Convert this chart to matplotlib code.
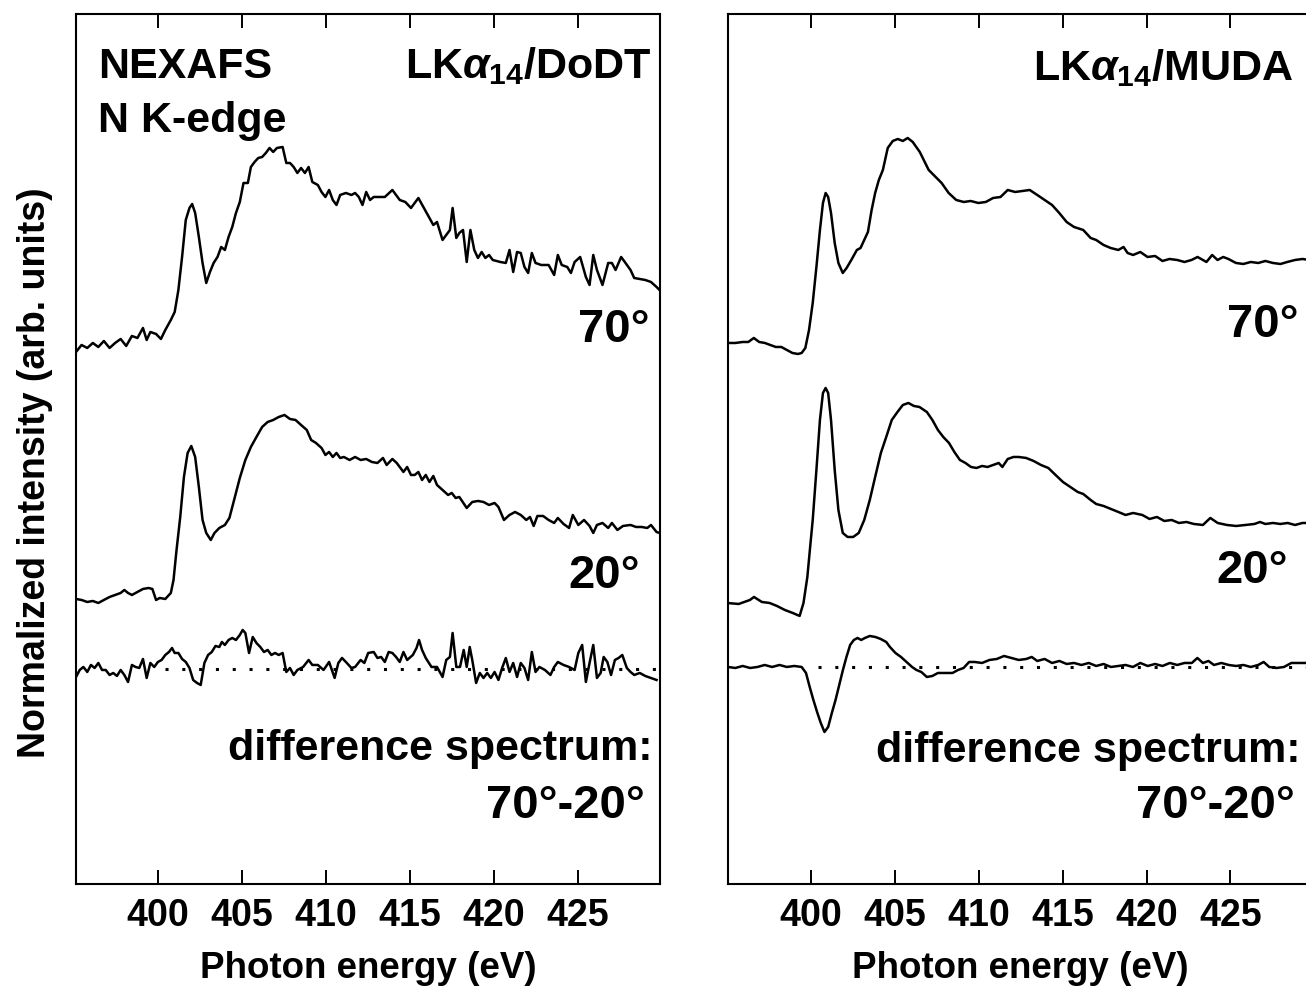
import numpy as np
import matplotlib
matplotlib.use("Agg")
import matplotlib.pyplot as plt

plt.rcParams['font.family'] = ['Liberation Sans', 'DejaVu Sans']
plt.rcParams['font.weight'] = 'bold'
plt.rcParams['axes.labelweight'] = 'bold'
plt.rcParams['mathtext.fontset'] = 'custom'
plt.rcParams['mathtext.rm'] = 'Liberation Sans:bold'
plt.rcParams['mathtext.it'] = 'Liberation Sans:italic'
plt.rcParams['mathtext.bf'] = 'Liberation Sans:bold'

# ---- LKa14/DoDT, 70 deg ----
e_dodt_70 = [395.10, 395.43, 395.77, 396.10, 396.43, 396.76, 397.10, 397.43, 397.76, 398.09,
             398.43, 398.76, 399.09, 399.31, 399.53, 399.87, 400.16, 400.42, 400.75, 400.98,
             401.20, 401.42, 401.64, 401.86, 402.02, 402.20, 402.42, 402.64, 402.86, 403.08,
             403.30, 403.53, 403.75, 403.97, 404.19, 404.41, 404.63, 404.86, 405.08, 405.34,
             405.52, 405.74, 405.96, 406.19, 406.41, 406.63, 406.85, 407.07, 407.41, 407.63,
             407.85, 408.07, 408.29, 408.51, 408.74, 408.96, 409.18, 409.51, 409.73, 409.96,
             410.18, 410.40, 410.62, 410.84, 411.18, 411.51, 411.73, 411.95, 412.17, 412.39,
             412.62, 412.84, 413.17, 413.50, 413.95, 414.17, 414.39, 414.72, 415.06, 415.50,
             415.83, 416.16, 416.39, 416.61, 416.94, 417.16, 417.38, 417.54, 417.76, 417.94,
             418.16, 418.38, 418.60, 418.83, 419.05, 419.27, 419.49, 419.71, 419.93, 420.38,
             420.71, 420.93, 421.15, 421.38, 421.60, 421.82, 422.04, 422.26, 422.48, 422.82,
             423.26, 423.59, 423.81, 424.04, 424.37, 424.59, 424.81, 425.14, 425.48, 425.70,
             425.92, 426.14, 426.47, 426.81, 427.03, 427.25, 427.58, 427.80, 428.14, 428.36,
             428.69, 429.02, 429.36, 429.69, 429.87]
i_dodt_70 = [5.32, 5.39, 5.36, 5.41, 5.37, 5.43, 5.36, 5.41, 5.45, 5.38,
             5.48, 5.46, 5.56, 5.44, 5.52, 5.50, 5.45, 5.54, 5.64, 5.72,
             5.94, 6.27, 6.64, 6.76, 6.80, 6.71, 6.47, 6.21, 6.01, 6.12,
             6.21, 6.27, 6.37, 6.34, 6.47, 6.57, 6.71, 6.82, 7.01, 7.01,
             7.17, 7.22, 7.26, 7.27, 7.31, 7.36, 7.32, 7.36, 7.37, 7.21,
             7.21, 7.17, 7.11, 7.16, 7.11, 7.17, 7.02, 6.99, 6.92, 6.87,
             6.94, 6.84, 6.79, 6.89, 6.91, 6.89, 6.91, 6.87, 6.79, 6.92,
             6.84, 6.87, 6.87, 6.87, 6.94, 6.89, 6.84, 6.82, 6.76, 6.86,
             6.76, 6.66, 6.59, 6.62, 6.44, 6.49, 6.54, 6.76, 6.46, 6.51,
             6.54, 6.22, 6.54, 6.34, 6.26, 6.32, 6.26, 6.29, 6.24, 6.22,
             6.21, 6.34, 6.12, 6.32, 6.31, 6.17, 6.11, 6.31, 6.21, 6.19,
             6.19, 6.09, 6.29, 6.19, 6.17, 6.11, 6.22, 6.27, 6.07, 5.99,
             6.29, 6.14, 5.99, 6.21, 6.21, 6.14, 6.27, 6.22, 6.14, 6.06,
             6.05, 6.04, 6.02, 5.97, 5.94]

# ---- LKa14/DoDT, 20 deg ----
e_dodt_20 = [395.10, 395.43, 395.77, 396.10, 396.43, 396.76, 397.10, 397.43, 397.76, 397.98,
             398.20, 398.43, 398.76, 399.09, 399.42, 399.65, 399.87, 400.09, 400.42, 400.75,
             400.91, 401.09, 401.31, 401.53, 401.75, 401.97, 402.20, 402.42, 402.64, 402.86,
             403.13, 403.35, 403.64, 403.97, 404.24, 404.52, 404.86, 405.19, 405.52, 405.85,
             406.19, 406.52, 406.85, 407.18, 407.52, 407.85, 408.18, 408.51, 408.85, 409.11,
             409.40, 409.73, 409.96, 410.18, 410.40, 410.62, 410.84, 411.06, 411.40, 411.73,
             412.06, 412.39, 412.73, 413.06, 413.39, 413.61, 413.95, 414.21, 414.61, 414.83,
             415.06, 415.28, 415.50, 415.72, 415.94, 416.16, 416.39, 416.61, 416.94, 417.27,
             417.49, 417.72, 417.94, 418.38, 418.71, 419.05, 419.38, 419.71, 420.04, 420.27,
             420.60, 420.93, 421.26, 421.60, 421.93, 422.15, 422.37, 422.59, 422.93, 423.26,
             423.59, 423.81, 424.15, 424.48, 424.70, 425.03, 425.37, 425.70, 425.92, 426.14,
             426.47, 426.81, 427.03, 427.36, 427.69, 428.14, 428.47, 428.80, 429.14, 429.36,
             429.69, 429.87]
i_dodt_20 = [2.85, 2.84, 2.82, 2.83, 2.81, 2.84, 2.87, 2.89, 2.91, 2.94,
             2.91, 2.89, 2.92, 2.95, 2.96, 2.95, 2.84, 2.86, 2.85, 2.91,
             3.04, 3.34, 3.67, 4.07, 4.31, 4.38, 4.27, 3.97, 3.64, 3.51,
             3.44, 3.51, 3.56, 3.59, 3.66, 3.84, 4.06, 4.24, 4.37, 4.47,
             4.57, 4.62, 4.64, 4.67, 4.69, 4.65, 4.64, 4.59, 4.54, 4.44,
             4.41, 4.36, 4.29, 4.32, 4.27, 4.31, 4.26, 4.27, 4.24, 4.27,
             4.24, 4.25, 4.22, 4.21, 4.26, 4.19, 4.25, 4.21, 4.12, 4.17,
             4.09, 4.09, 4.12, 4.04, 4.09, 4.02, 4.08, 3.99, 3.94, 3.89,
             3.91, 3.86, 3.87, 3.76, 3.82, 3.83, 3.82, 3.79, 3.81, 3.77,
             3.64, 3.69, 3.72, 3.69, 3.64, 3.67, 3.58, 3.68, 3.68, 3.64,
             3.61, 3.66, 3.60, 3.56, 3.69, 3.59, 3.64, 3.58, 3.51, 3.59,
             3.61, 3.56, 3.61, 3.54, 3.58, 3.59, 3.57, 3.57, 3.56, 3.59,
             3.52, 3.51]

# ---- LKa14/DoDT, difference 70-20 ----
e_dodt_diff = [395.10, 395.32, 395.54, 395.77, 395.99, 396.21, 396.43, 396.65, 396.87, 397.10,
               397.32, 397.54, 397.76, 397.98, 398.20, 398.43, 398.65, 398.87, 399.09, 399.31,
               399.53, 399.76, 399.98, 400.20, 400.42, 400.64, 400.82, 400.98, 401.20, 401.42,
               401.64, 401.86, 402.08, 402.31, 402.53, 402.75, 402.97, 403.19, 403.41, 403.64,
               403.79, 403.97, 404.19, 404.41, 404.63, 404.86, 405.03, 405.19, 405.41, 405.63,
               405.85, 406.08, 406.30, 406.52, 406.74, 406.96, 407.18, 407.41, 407.63, 407.85,
               408.07, 408.29, 408.63, 408.96, 409.18, 409.51, 409.85, 410.18, 410.51, 410.73,
               410.95, 411.18, 411.51, 411.73, 412.06, 412.28, 412.51, 412.84, 413.06, 413.28,
               413.50, 413.73, 413.95, 414.17, 414.39, 414.61, 414.83, 415.17, 415.39, 415.54,
               415.72, 415.94, 416.28, 416.61, 416.94, 417.16, 417.38, 417.54, 417.76, 417.98,
               418.20, 418.38, 418.56, 418.71, 418.94, 419.16, 419.38, 419.60, 419.82, 420.04,
               420.27, 420.49, 420.71, 420.93, 421.15, 421.38, 421.60, 421.82, 422.04, 422.26,
               422.48, 422.71, 423.04, 423.37, 423.59, 423.81, 424.15, 424.48, 424.81, 425.03,
               425.26, 425.48, 425.70, 425.92, 426.14, 426.36, 426.54, 426.76, 426.98, 427.21,
               427.43, 427.65, 427.92, 428.14, 428.36, 428.69, 429.02, 429.36, 429.69]
i_dodt_diff = [2.07, 2.14, 2.17, 2.12, 2.19, 2.16, 2.21, 2.14, 2.14, 2.09,
               2.11, 2.08, 2.14, 2.09, 2.02, 2.19, 2.17, 2.16, 2.25, 2.06,
               2.21, 2.17, 2.22, 2.24, 2.29, 2.32, 2.36, 2.31, 2.31, 2.25,
               2.22, 2.16, 2.04, 2.01, 1.99, 2.21, 2.29, 2.32, 2.38, 2.37,
               2.42, 2.39, 2.44, 2.46, 2.44, 2.49, 2.54, 2.51, 2.31, 2.47,
               2.41, 2.37, 2.32, 2.34, 2.29, 2.31, 2.29, 2.31, 2.12, 2.16,
               2.09, 2.14, 2.17, 2.24, 2.19, 2.19, 2.14, 2.22, 2.06, 2.21,
               2.26, 2.22, 2.16, 2.17, 2.24, 2.21, 2.31, 2.32, 2.26, 2.27,
               2.22, 2.32, 2.31, 2.27, 2.22, 2.32, 2.24, 2.29, 2.36, 2.44,
               2.34, 2.26, 2.17, 2.17, 2.07, 2.24, 2.27, 2.51, 2.17, 2.17,
               2.34, 2.17, 2.37, 2.24, 2.01, 2.11, 2.06, 2.11, 2.06, 2.12,
               2.04, 2.16, 2.26, 2.12, 2.21, 2.07, 2.21, 2.16, 2.04, 2.32,
               2.12, 2.17, 2.14, 2.09, 2.17, 2.22, 2.19, 2.17, 2.14, 2.31,
               2.39, 2.02, 2.21, 2.39, 2.06, 2.11, 2.27, 2.22, 2.09, 2.24,
               2.26, 2.29, 2.16, 2.12, 2.09, 2.11, 2.08, 2.06, 2.04]

# ---- LKa14/MUDA, 70 deg ----
e_muda_70 = [395.06, 395.50, 395.94, 396.27, 396.60, 396.92, 397.26, 397.58, 397.91, 398.24,
             398.57, 398.90, 399.23, 399.45, 399.67, 399.89, 400.11, 400.33, 400.54, 400.72,
             400.88, 401.03, 401.20, 401.42, 401.64, 401.90, 402.13, 402.41, 402.74, 402.96,
             403.18, 403.40, 403.62, 403.83, 404.05, 404.29, 404.58, 404.88, 405.18, 405.48,
             405.77, 406.07, 406.49, 407.02, 407.79, 408.21, 408.66, 409.11, 409.52, 409.98,
             410.42, 410.86, 411.30, 411.73, 412.17, 412.61, 413.04, 413.49, 413.93, 414.37,
             414.80, 415.24, 415.68, 416.23, 416.67, 417.00, 417.44, 417.86, 418.32, 418.63,
             418.87, 419.20, 419.63, 420.06, 420.51, 420.95, 421.37, 421.83, 422.26, 422.68,
             423.04, 423.36, 423.57, 423.91, 424.23, 424.57, 424.88, 425.33, 425.77, 426.21,
             426.66, 427.08, 427.53, 427.98, 428.39, 428.85, 429.29, 429.70]
i_muda_70 = [5.41, 5.41, 5.42, 5.42, 5.46, 5.42, 5.41, 5.39, 5.37, 5.37,
             5.34, 5.31, 5.30, 5.31, 5.36, 5.54, 5.81, 6.17, 6.54, 6.81,
             6.91, 6.87, 6.71, 6.41, 6.21, 6.11, 6.16, 6.24, 6.34, 6.36,
             6.44, 6.52, 6.74, 6.91, 7.04, 7.14, 7.36, 7.43, 7.45, 7.43,
             7.46, 7.42, 7.32, 7.14, 7.01, 6.91, 6.84, 6.82, 6.83, 6.81,
             6.82, 6.86, 6.87, 6.94, 6.92, 6.93, 6.94, 6.89, 6.84, 6.79,
             6.71, 6.62, 6.57, 6.54, 6.46, 6.44, 6.39, 6.36, 6.34, 6.37,
             6.31, 6.29, 6.32, 6.27, 6.28, 6.23, 6.25, 6.24, 6.22, 6.24,
             6.27, 6.24, 6.22, 6.29, 6.24, 6.27, 6.25, 6.21, 6.20, 6.22,
             6.21, 6.23, 6.21, 6.20, 6.22, 6.24, 6.25, 6.24]

# ---- LKa14/MUDA, 20 deg ----
e_muda_20 = [395.00, 395.70, 396.37, 396.61, 397.08, 397.54, 397.98, 398.45, 398.92, 399.33,
             399.56, 399.79, 399.94, 400.11, 400.33, 400.54, 400.72, 400.88, 401.03, 401.20,
             401.42, 401.64, 401.90, 402.19, 402.52, 402.85, 403.18, 403.51, 403.83, 404.17,
             404.49, 404.82, 405.16, 405.48, 405.81, 406.14, 406.47, 406.91, 407.24, 407.57,
             407.89, 408.23, 408.55, 408.88, 409.21, 409.54, 409.87, 410.20, 410.53, 410.86,
             411.19, 411.41, 411.73, 412.07, 412.39, 412.83, 413.27, 413.71, 414.15, 414.58,
             415.02, 415.46, 415.90, 416.23, 416.67, 417.00, 417.44, 417.88, 418.32, 418.75,
             419.20, 419.75, 420.18, 420.62, 421.06, 421.50, 421.93, 422.38, 422.82, 423.36,
             423.80, 424.24, 424.79, 425.34, 425.89, 426.43, 426.76, 427.08, 427.53, 427.97,
             428.41, 428.85, 429.29, 429.70]
i_muda_20 = [2.81, 2.80, 2.84, 2.87, 2.82, 2.81, 2.78, 2.74, 2.71, 2.68,
             2.81, 3.07, 3.34, 3.64, 4.14, 4.64, 4.91, 4.96, 4.91, 4.64,
             4.14, 3.74, 3.51, 3.47, 3.47, 3.51, 3.64, 3.84, 4.07, 4.31,
             4.47, 4.64, 4.72, 4.79, 4.81, 4.78, 4.77, 4.72, 4.64, 4.54,
             4.47, 4.41, 4.32, 4.24, 4.21, 4.17, 4.16, 4.18, 4.17, 4.19,
             4.21, 4.17, 4.25, 4.27, 4.27, 4.26, 4.23, 4.19, 4.16, 4.09,
             4.02, 3.97, 3.92, 3.90, 3.84, 3.80, 3.78, 3.75, 3.72, 3.69,
             3.71, 3.69, 3.65, 3.67, 3.63, 3.64, 3.61, 3.62, 3.60, 3.59,
             3.66, 3.61, 3.59, 3.58, 3.59, 3.60, 3.62, 3.60, 3.61, 3.60,
             3.61, 3.59, 3.61, 3.61]

# ---- LKa14/MUDA, difference 70-20 ----
e_muda_diff = [395.06, 395.50, 395.94, 396.38, 396.82, 397.25, 397.69, 398.13, 398.57, 399.01,
               399.45, 399.71, 399.93, 400.15, 400.37, 400.59, 400.81, 401.03, 401.25, 401.47,
               401.69, 401.91, 402.12, 402.34, 402.56, 402.78, 403.00, 403.22, 403.51, 403.84,
               404.16, 404.49, 404.71, 405.04, 405.37, 405.70, 406.03, 406.29, 406.58, 406.91,
               407.24, 407.57, 408.00, 408.44, 408.77, 409.10, 409.43, 409.76, 410.20, 410.64,
               411.08, 411.51, 411.95, 412.39, 412.83, 413.16, 413.49, 413.93, 414.37, 414.81,
               415.24, 415.68, 416.12, 416.56, 417.00, 417.44, 417.88, 418.32, 418.75, 419.19,
               419.63, 420.07, 420.51, 420.95, 421.39, 421.83, 422.26, 422.70, 423.03, 423.36,
               423.69, 424.02, 424.46, 424.90, 425.34, 425.77, 426.21, 426.65, 426.98, 427.31,
               427.75, 428.19, 428.63, 429.07, 429.46, 429.80]
i_muda_diff = [2.17, 2.16, 2.18, 2.16, 2.17, 2.19, 2.17, 2.19, 2.17, 2.18,
               2.17, 2.11, 1.97, 1.84, 1.72, 1.61, 1.52, 1.57, 1.71, 1.84,
               1.99, 2.14, 2.27, 2.39, 2.44, 2.46, 2.44, 2.46, 2.48, 2.47,
               2.45, 2.42, 2.37, 2.31, 2.27, 2.22, 2.17, 2.14, 2.12, 2.07,
               2.08, 2.11, 2.11, 2.11, 2.14, 2.16, 2.22, 2.22, 2.21, 2.24,
               2.25, 2.28, 2.26, 2.24, 2.25, 2.27, 2.23, 2.25, 2.21, 2.23,
               2.20, 2.21, 2.19, 2.21, 2.18, 2.20, 2.17, 2.18, 2.19, 2.17,
               2.21, 2.18, 2.20, 2.18, 2.21, 2.19, 2.21, 2.21, 2.26, 2.21,
               2.23, 2.19, 2.21, 2.19, 2.18, 2.19, 2.17, 2.19, 2.22, 2.17,
               2.16, 2.17, 2.21, 2.21, 2.21, 2.21]

zero_dodt = 2.15
zero_muda = 2.17

xticks = [400, 405, 410, 415, 420, 425]

fig = plt.figure(figsize=(13.06, 9.92), dpi=100)
ax1 = fig.add_axes([0.0582, 0.1089, 0.4472, 0.877])
ax2 = fig.add_axes([0.5574, 0.1089, 0.4472, 0.877])

panels = [
    (ax1, e_dodt_70, i_dodt_70, e_dodt_20, i_dodt_20, e_dodt_diff, i_dodt_diff, zero_dodt, 395.1, 429.9),
    (ax2, e_muda_70, i_muda_70, e_muda_20, i_muda_20, e_muda_diff, i_muda_diff, zero_muda, 395.06, 429.86),
]
for ax, ex70, iy70, ex20, iy20, exd, iyd, z, x0, x1 in panels:
    ax.plot(ex70, iy70, color='black', lw=1.8)
    ax.plot(ex20, iy20, color='black', lw=1.8)
    ax.plot(exd, iyd, color='black', lw=1.8)
    ax.plot([400.4, x1], [z, z], color='black', lw=2.2, linestyle=(0, (1, 4.5)))
    ax.set_xlim(x0, x1)
    ax.set_ylim(0, 8.7)
    ax.set_xticks(xticks)
    ax.set_yticks([])
    ax.tick_params(axis='x', direction='in', top=True, length=10, width=1.4,
                   labelsize=27, pad=10)
    for s in ax.spines.values():
        s.set_linewidth(1.5)
    ax.set_xlabel('Photon energy (eV)', fontsize=26.5, labelpad=12)

big = dict(fontsize=31, fontweight='bold', va='baseline')
num = dict(fontsize=34, fontweight='bold', va='baseline')
ax1.text(0.0377, 0.9264, 'NEXAFS', ha='left', transform=ax1.transAxes, **big)
ax1.text(0.0377, 0.8644, 'N K-edge', ha='left', transform=ax1.transAxes, **big)
ax1.text(0.9863, 0.9264, r'LK$\alpha_{14}$/DoDT', ha='right', transform=ax1.transAxes, **big)
ax1.text(0.9812, 0.623, '70°', ha='right', transform=ax1.transAxes, **num)
ax1.text(0.9658, 0.3402, '20°', ha='right', transform=ax1.transAxes, **num)
ax1.text(0.9863, 0.1425, 'difference spectrum:', ha='right', transform=ax1.transAxes, **big)
ax1.text(0.9743, 0.0759, '70°-20°', ha='right', transform=ax1.transAxes, **num)

ax2.text(0.9675, 0.9241, r'LK$\alpha_{14}$/MUDA', ha='right', transform=ax2.transAxes, **big)
ax2.text(0.9777, 0.6287, '70°', ha='right', transform=ax2.transAxes, **num)
ax2.text(0.9589, 0.346, '20°', ha='right', transform=ax2.transAxes, **num)
ax2.text(0.9795, 0.1402, 'difference spectrum:', ha='right', transform=ax2.transAxes, **big)
ax2.text(0.9709, 0.0759, '70°-20°', ha='right', transform=ax2.transAxes, **num)

fig.text(0.0268, 0.524, 'Normalized intensity (arb. units)', rotation=90,
         ha='center', va='center', fontsize=27, fontweight='bold')

fig.savefig('out.png', dpi=100)
